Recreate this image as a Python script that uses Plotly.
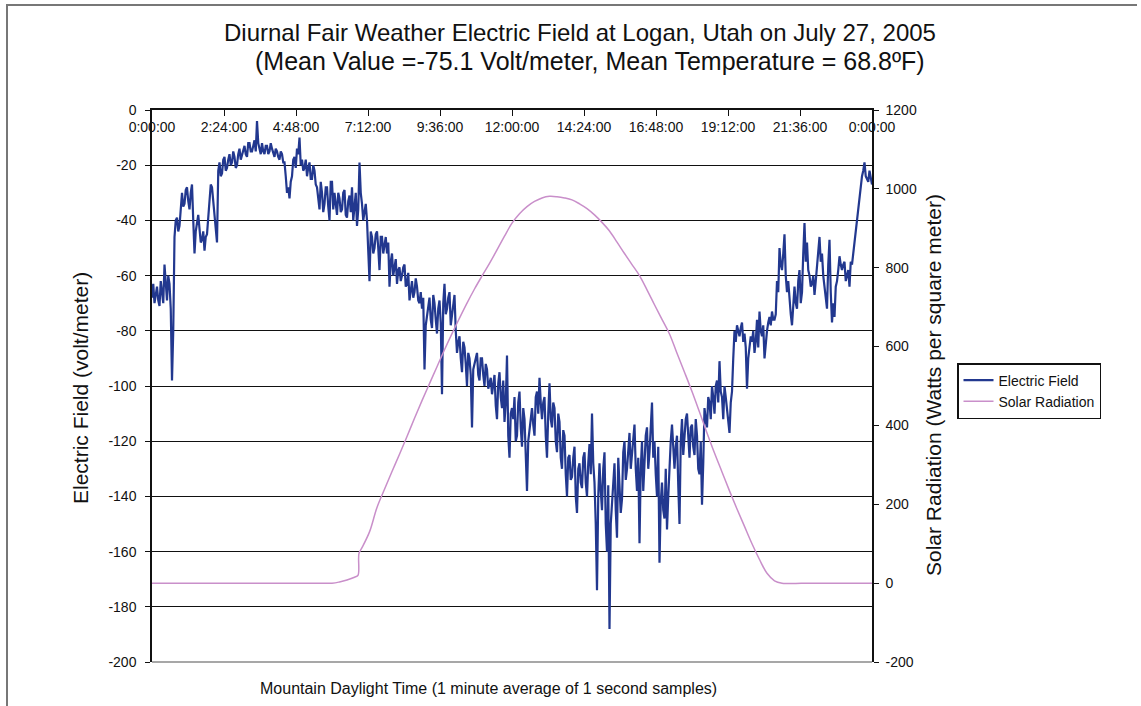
import plotly.graph_objects as go

# ---------------- data ----------------
# Electric field (V/m), read every 5 minutes from 0:00 to 24:00
ef_step_min = 5
ef_values = [
    -68, -70, -64, -71, -66, -56, -69, -63, -98, -46, -39, -42,
    -30, -34, -28, -36, -27, -52, -40, -43, -47, -51, -45, -31,
    -28, -36, -48, -19, -23, -17, -21, -16, -19, -17, -20, -14,
    -16, -13, -17, -12, -15, -11, -4, -14, -12, -16, -13, -15,
    -14, -17, -15, -18, -16, -19, -30, -32, -24, -17, -14, -10,
    -18, -21, -24, -19, -25, -22, -28, -36, -30, -34, -28, -40,
    -26, -30, -38, -32, -36, -29, -39, -31, -28, -35, -42, -19,
    -34, -37, -40, -62, -46, -50, -44, -58, -46, -49, -52, -64,
    -52, -57, -63, -57, -60, -56, -63, -69, -62, -66, -64, -70,
    -72, -94, -74, -68, -79, -70, -81, -69, -103, -63, -72, -66,
    -74, -67, -88, -82, -95, -86, -100, -90, -115, -92, -88, -98,
    -90, -100, -94, -99, -103, -96, -112, -95, -108, -113, -89, -126,
    -108, -104, -118, -102, -122, -112, -138, -115, -108, -118, -102, -97,
    -112, -104, -126, -99, -115, -108, -124, -113, -130, -118, -140, -125,
    -133, -122, -146, -128, -137, -124, -140, -121, -110, -135, -174, -128,
    -145, -124, -160, -188, -142, -128, -155, -135, -141, -120, -130, -117,
    -125, -114, -138, -157, -120, -128, -115, -124, -106, -120, -140, -164,
    -135, -148, -152, -128, -114, -130, -118, -150, -112, -118, -110, -126,
    -114, -125, -118, -132, -143, -108, -115, -106, -100, -110, -98, -91,
    -104, -100, -108, -117, -102, -80, -78, -82, -77, -81, -101, -86,
    -84, -88, -76, -73, -82, -90, -80, -75, -73, -76, -62, -50,
    -58, -45, -66, -70, -78, -64, -72, -58, -66, -41, -48, -60,
    -63, -67, -56, -46, -52, -64, -72, -47, -77, -75, -62, -53,
    -58, -55, -60, -64, -56, -48, -40, -30, -24, -19, -25, -22,
    -27,
]
# Electric field read half-way between the readings above (minute 2.5, 7.5, ...)
ef_values_mid = [
    -63, -66, -69, -62, -70, -65, -60, -72, -80, -40, -44, -36,
    -35, -29, -33, -30, -40, -44, -38, -48, -44, -46, -38, -27,
    -33, -42, -22, -24, -18, -22, -18, -20, -15, -21, -16, -18,
    -14, -16, -12, -15, -13, -15, -12, -16, -15, -13, -16, -12,
    -16, -14, -17, -15, -19, -24, -28, -26, -18, -21, -16, -20,
    -22, -18, -21, -25, -20, -27, -32, -26, -37, -28, -35, -26,
    -36, -34, -30, -37, -30, -38, -33, -37, -40, -30, -36, -30,
    -40, -34, -52, -44, -52, -45, -50, -46, -52, -46, -48, -55,
    -60, -54, -58, -62, -57, -64, -59, -65, -68, -61, -69, -66,
    -68, -78, -72, -76, -67, -76, -72, -77, -70, -74, -68, -78,
    -70, -80, -84, -90, -84, -92, -88, -96, -94, -90, -96, -90,
    -96, -92, -101, -97, -100, -107, -99, -104, -98, -106, -118, -110,
    -112, -120, -106, -115, -108, -125, -120, -110, -114, -104, -110, -106,
    -106, -118, -110, -112, -106, -120, -110, -126, -116, -132, -126, -134,
    -126, -140, -130, -135, -126, -135, -128, -132, -128, -150, -140, -138,
    -130, -150, -136, -150, -133, -145, -126, -146, -124, -134, -122, -130,
    -118, -130, -126, -130, -138, -118, -130, -112, -126, -132, -122, -142,
    -145, -130, -140, -120, -125, -122, -136, -120, -125, -112, -120, -115,
    -122, -112, -130, -120, -128, -112, -104, -112, -104, -100, -106, -102,
    -112, -104, -114, -106, -90, -84, -80, -79, -84, -86, -90, -82,
    -80, -84, -86, -80, -78, -84, -77, -78, -76, -74, -66, -56,
    -52, -60, -62, -74, -68, -70, -62, -70, -52, -55, -58, -64,
    -60, -62, -50, -55, -60, -68, -56, -66, -70, -64, -58, -56,
    -56, -62, -58, -55, -52, -44, -36, -26, -22, -24, -26, -24,
]

# Solar radiation (W/m^2) readings
solar_minutes = [
    0, 60, 120, 180, 240, 300, 360, 375, 390, 405, 412, 414, 420, 435,
    450, 465, 480, 495, 510, 525, 540, 555, 570, 585, 600, 615, 630, 645,
    660, 675, 690, 705, 720, 735, 750, 765, 780, 795, 810, 825, 840, 855,
    870, 885, 900, 915, 930, 945, 960, 975, 990, 1005, 1020, 1035, 1050,
    1065, 1080, 1095, 1110, 1125, 1140, 1155, 1170, 1185, 1200, 1215,
    1230, 1245, 1260, 1320, 1380, 1440,
]
solar_values = [
    0, 0, 0, 0, 0, 0, 0, 3, 8, 15, 20, 76, 90, 130,
    192, 238, 283, 327, 372, 418, 463, 506, 549, 592, 633, 672, 710, 746,
    779, 811, 845, 880, 913, 937, 955, 968, 977, 981, 980, 977, 972, 962,
    950, 934, 915, 893, 865, 836, 808, 780, 744, 706, 669, 632, 583,
    535, 486, 434, 381, 330, 282, 234, 188, 144, 100, 60,
    25, 6, 0, 0, 0, 0,
]

x_tickvals = [0, 144, 288, 432, 576, 720, 864, 1008, 1152, 1296, 1440]
x_ticktext = ["0:00:00", "2:24:00", "4:48:00", "7:12:00", "9:36:00", "12:00:00",
              "14:24:00", "16:48:00", "19:12:00", "21:36:00", "0:00:00"]
y_tickvals = [0, -20, -40, -60, -80, -100, -120, -140, -160, -180, -200]
y_ticktext = ["0", "-20", "-40", "-60", "-80", "-100", "-120", "-140", "-160", "-180", "-200"]
y2_tickvals = [1200, 1000, 800, 600, 400, 200, 0, -200]
y2_ticktext = ["1200", "1000", "800", "600", "400", "200", "0", "-200"]

title_line1 = "Diurnal Fair Weather Electric Field at Logan, Utah on July 27, 2005"
title_line2 = "(Mean Value =-75.1 Volt/meter, Mean Temperature = 68.8ºF)"

FONT = "Arial, 'Liberation Sans', sans-serif"

# interleave the two electric-field readings into one time series
ef_x, ef_y = [], []
for i, v in enumerate(ef_values):
    ef_x.append(i * ef_step_min)
    ef_y.append(v)
    if i < len(ef_values_mid):
        ef_x.append(i * ef_step_min + ef_step_min / 2)
        ef_y.append(ef_values_mid[i])

# ---------------- figure ----------------
fig = go.Figure()
fig.add_trace(go.Scatter(
    x=ef_x, y=ef_y, mode="lines", name="Electric Field",
    line=dict(color="#22388f", width=2.2), yaxis="y",
))
fig.add_trace(go.Scatter(
    x=solar_minutes, y=solar_values, mode="lines", name="Solar Radiation",
    line=dict(color="#c98fca", width=1.5), yaxis="y2", line_shape="spline",
))

W, H = 1141, 706
L, R, T, B = 152, 872, 110, 662
PW, PH = R - L, B - T


def px(x):
    return (x - L) / PW


def py(y):
    return (B - y) / PH


fig.update_layout(
    width=W, height=H,
    margin=dict(l=L, r=W - R, t=T, b=H - B),
    paper_bgcolor="white", plot_bgcolor="white",
    font=dict(family=FONT, color="#111111"),
    showlegend=True,
    legend=dict(
        x=px(957), y=py(363), xanchor="left", yanchor="top",
        bordercolor="#111111", borderwidth=1.5, bgcolor="white",
        font=dict(size=14, family=FONT), tracegroupgap=0, itemwidth=30,
    ),
    xaxis=dict(
        range=[0, 1440], side="top", tickvals=x_tickvals, ticktext=x_ticktext,
        ticks="inside", ticklen=6, tickcolor="#111111",
        ticklabelposition="inside", ticklabeloverflow="allow", ticklabelstandoff=6,
        tickfont=dict(size=14, family=FONT, color="#111111"),
        showgrid=False, zeroline=False, showline=True, linecolor="#111111",
        linewidth=1.5,
    ),
    yaxis=dict(
        range=[-200, 0], tickvals=y_tickvals, ticktext=y_ticktext,
        ticks="outside", ticklen=5, tickcolor="#111111", ticklabelstandoff=6,
        tickfont=dict(size=14, family=FONT, color="#111111"),
        showgrid=True, gridcolor="#111111", gridwidth=1.2,
        zeroline=False, showline=True, linecolor="#111111", linewidth=1.5,
    ),
    yaxis2=dict(
        range=[-200, 1200], tickvals=y2_tickvals, ticktext=y2_ticktext,
        overlaying="y", side="right",
        ticks="outside", ticklen=5, tickcolor="#111111", ticklabelstandoff=4,
        tickfont=dict(size=14, family=FONT, color="#111111"),
        showgrid=False, zeroline=False, showline=True, linecolor="#111111",
        linewidth=1.5,
    ),
)

# bottom edge of the plot area (grey)
fig.add_shape(type="line", xref="paper", yref="paper", x0=0, x1=1, y0=0, y1=0,
              line=dict(color="#8a8a8a", width=1.5))
# outer chart frame
fig.add_shape(type="line", xref="paper", yref="paper",
              x0=px(6), x1=px(1137), y0=py(5), y1=py(5),
              line=dict(color="#777777", width=2))
fig.add_shape(type="line", xref="paper", yref="paper",
              x0=px(7), x1=px(7), y0=py(5), y1=py(720),
              line=dict(color="#777777", width=2))

# titles as annotations
fig.add_annotation(text=title_line1, xref="paper", yref="paper",
                   x=px(580), y=py(33), xanchor="center", yanchor="middle",
                   showarrow=False, font=dict(size=24, family=FONT, color="#111111"))
fig.add_annotation(text=title_line2, xref="paper", yref="paper",
                   x=px(590), y=py(61), xanchor="center", yanchor="middle",
                   showarrow=False, font=dict(size=25, family=FONT, color="#111111"))
fig.add_annotation(text="Electric Field (volt/meter)", xref="paper", yref="paper",
                   x=px(80), y=py(388), xanchor="center", yanchor="middle", textangle=-90,
                   showarrow=False, font=dict(size=21, family=FONT, color="#111111"))
fig.add_annotation(text="Solar Radiation (Watts per square meter)", xref="paper", yref="paper",
                   x=px(933), y=py(385), xanchor="center", yanchor="middle", textangle=-90,
                   showarrow=False, font=dict(size=21, family=FONT, color="#111111"))
fig.add_annotation(text="Mountain Daylight Time (1 minute average of 1 second samples)",
                   xref="paper", yref="paper",
                   x=px(488), y=py(688), xanchor="center", yanchor="middle",
                   showarrow=False, font=dict(size=16, family=FONT, color="#111111"))

fig.write_html("out.html", config={"displayModeBar": False},
               post_script="document.body.style.margin='0px';")
